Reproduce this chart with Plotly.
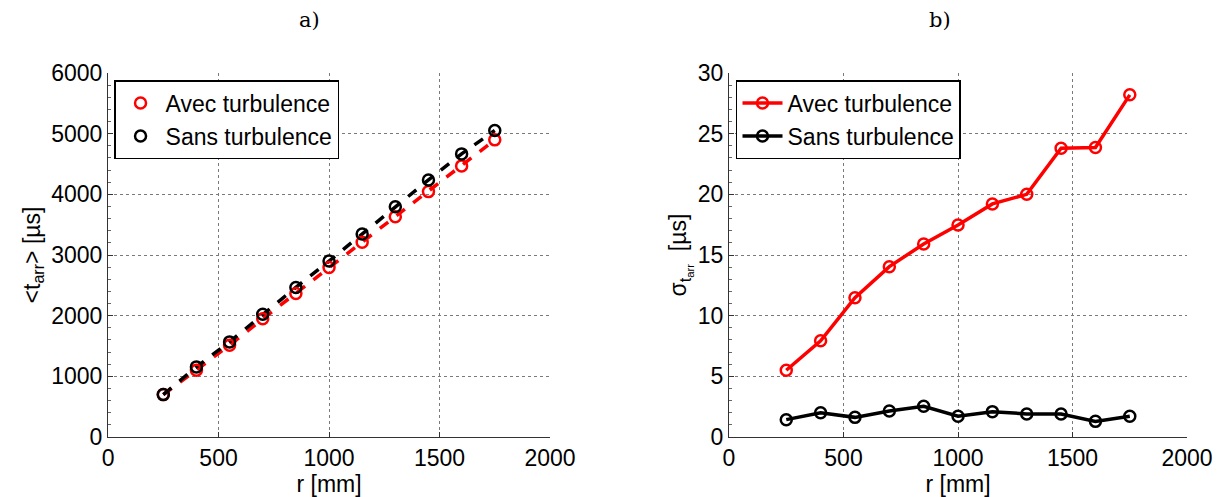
import plotly.graph_objects as go

r_mm = [250, 400, 550, 700, 850, 1000, 1150, 1300, 1450, 1600, 1750]
t_avec = [699, 1100, 1513, 1948, 2367, 2796, 3209, 3632, 4045, 4469, 4898]
t_sans = [699, 1156, 1568, 2025, 2466, 2900, 3346, 3797, 4238, 4667, 5052]
sig_avec = [5.5, 7.93, 11.48, 14.04, 15.91, 17.48, 19.21, 20.0, 23.8, 23.86, 28.2]
sig_sans = [1.43, 2.0, 1.62, 2.15, 2.53, 1.71, 2.09, 1.9, 1.9, 1.29, 1.71]

RED = "#ff0000"
BLK = "#000000"
FONT = "Liberation Sans, Arial, sans-serif"
SERIF = "DejaVu Serif, Liberation Serif, serif"
FS = 23

fig = go.Figure()

# Panel a: dashed lines through points, circle markers on top
fig.add_trace(go.Scatter(x=r_mm, y=t_avec, mode="lines", line=dict(color=RED, width=3.5, dash="dash"),
                         showlegend=False, xaxis="x", yaxis="y"))
fig.add_trace(go.Scatter(x=r_mm, y=t_sans, mode="lines", line=dict(color=BLK, width=3.5, dash="dash"),
                         showlegend=False, xaxis="x", yaxis="y"))
fig.add_trace(go.Scatter(x=r_mm, y=t_avec, mode="markers", name="Avec turbulence",
                         marker=dict(symbol="circle-open", size=11, color=RED, line=dict(width=2.5, color=RED)),
                         xaxis="x", yaxis="y", legend="legend"))
fig.add_trace(go.Scatter(x=r_mm, y=t_sans, mode="markers", name="Sans turbulence",
                         marker=dict(symbol="circle-open", size=11, color=BLK, line=dict(width=2.5, color=BLK)),
                         xaxis="x", yaxis="y", legend="legend"))

# Panel b
fig.add_trace(go.Scatter(x=r_mm, y=sig_avec, mode="lines+markers", name="Avec turbulence",
                         line=dict(color=RED, width=3.5),
                         marker=dict(symbol="circle-open", size=11, color=RED, line=dict(width=2.5, color=RED)),
                         xaxis="x2", yaxis="y2", legend="legend2"))
fig.add_trace(go.Scatter(x=r_mm, y=sig_sans, mode="lines+markers", name="Sans turbulence",
                         line=dict(color=BLK, width=3.5),
                         marker=dict(symbol="circle-open", size=11, color=BLK, line=dict(width=2.5, color=BLK)),
                         xaxis="x2", yaxis="y2", legend="legend2"))

axis_common = dict(
    showgrid=True, gridcolor="#7a7a7a", griddash="dot", gridwidth=1,
    showline=True, linecolor="#333333", linewidth=1.2,
    ticks="inside", ticklen=5, tickcolor="#333333",
    zeroline=False, tickfont=dict(family=FONT, size=FS, color="black"),
    title_font=dict(family=FONT, size=FS, color="black"),
    automargin=False,
)

# the page body adds an 8px offset; domains below account for it
fig.update_layout(
    width=1226, height=497,
    paper_bgcolor="white", plot_bgcolor="white",
    margin=dict(l=0, r=0, t=0, b=0),
    font=dict(family=FONT, size=FS, color="black"),
    xaxis=dict(domain=[0.0816, 0.4421], range=[0, 2000], dtick=500, anchor="y",
               title=dict(text="r [mm]", standoff=0), **axis_common),
    yaxis=dict(domain=[0.1368, 0.8692], range=[0, 6000], dtick=1000, anchor="x",
               title=dict(text="<t<sub>arr</sub>> [µs]", standoff=4),
               minor=dict(ticks="inside", ticklen=3, tickcolor="#666666", dtick=200, showgrid=False),
               **axis_common),
    xaxis2=dict(domain=[0.5881, 0.9617], range=[0, 2000], dtick=500, anchor="y2",
                title=dict(text="r [mm]", standoff=0), **axis_common),
    yaxis2=dict(domain=[0.1368, 0.8692], range=[0, 30], dtick=5, anchor="x2",
                title=dict(text="σ<sub>t<sub>arr</sub></sub>  [µs]", standoff=4),
                minor=dict(ticks="inside", ticklen=3, tickcolor="#666666", dtick=1, showgrid=False),
                **axis_common),
    legend=dict(x=0.0865, y=0.855, xanchor="left", yanchor="top", itemwidth=40,
                bordercolor="black", borderwidth=1.5, bgcolor="white",
                font=dict(family=FONT, size=FS, color="black"), tracegroupgap=0),
    legend2=dict(x=0.5938, y=0.855, xanchor="left", yanchor="top", itemwidth=40,
                 bordercolor="black", borderwidth=1.5, bgcolor="white",
                 font=dict(family=FONT, size=FS, color="black"), tracegroupgap=0),
    annotations=[
        dict(text="a)", x=0.2463, y=0.975, xref="paper", yref="paper", showarrow=False,
             xanchor="center", yanchor="middle", font=dict(family=SERIF, size=21, color="black")),
        dict(text="b)", x=0.7602, y=0.975, xref="paper", yref="paper", showarrow=False,
             xanchor="center", yanchor="middle", font=dict(family=SERIF, size=21, color="black")),
    ],
)

fig.write_html("out.html")
